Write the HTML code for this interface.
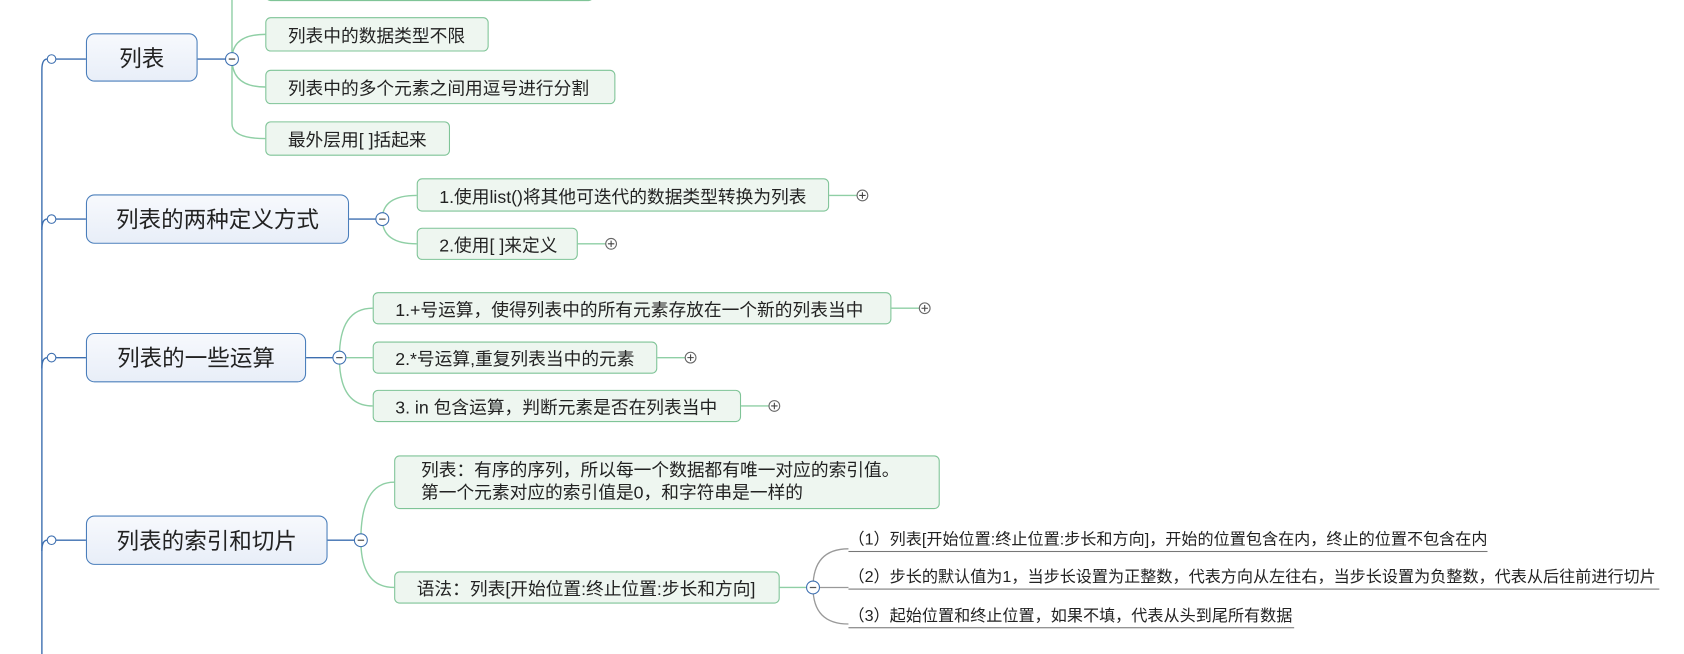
<!DOCTYPE html>
<html><head><meta charset="utf-8"><style>
html,body{margin:0;width:1684px;height:654px;overflow:hidden}
body{background:#fff;position:relative;font-family:"Liberation Sans","Noto Sans CJK SC",sans-serif}
#w{position:absolute;left:0;top:0;width:1568px;height:609px;overflow:hidden;transform:scale(1.074);transform-origin:0 0}
.r{position:absolute;border:1px solid #4a7ebb;border-radius:8px;background:linear-gradient(#f7f9fd,#e8eef8);font-size:21px;color:#222;display:flex;align-items:center;justify-content:center;box-sizing:border-box}
.c{position:absolute;border:1px solid #7fc497;border-radius:5px;background:#eef6f0;font-size:16.5px;color:#222;display:flex;align-items:center;padding-left:20px;box-sizing:border-box;white-space:nowrap}
.l{position:absolute;font-size:15px;color:#222;white-space:nowrap;border-bottom:1px solid #777;padding-bottom:1px}
svg{position:absolute;left:0;top:0}
</style></head><body><div id="w">
<svg width="1568" height="609" fill="none">
<g stroke="#3d6fb0" stroke-width="1.3">
<path d="M39 609 V65 Q39 55 44 55"/><path d="M39 214 Q39 204 44 204"/><path d="M39 343 Q39 333 44 333"/><path d="M39 513 Q39 503 44 503"/>
<path d="M52 55H80M52 204H80M52 333H80M52 503H80"/>
<path d="M184 55H211M325 204H351M285 333H311M305 503H331"/>
</g>
<g stroke="#8fcfa5" stroke-width="1.3">
<path d="M216 55 V0"/>
<path d="M216 55 Q216 32 247 32"/><path d="M216 55 Q216 81 247 81"/><path d="M216 55 V115 Q216 129 247 129"/>
<path d="M356 204 Q356 182 388 182"/><path d="M356 204 Q356 227 388 227"/>
<path d="M316 333 Q316 287 347 287"/><path d="M321 333H347"/><path d="M316 333 Q316 378 347 378"/>
<path d="M336 503 Q336 449 367 449"/><path d="M336 503 Q336 547 367 547"/>
<path d="M772 182H798M538 227H564M830 287H856M612 333H638M690 378H716M726 547H752"/>
</g>
<g stroke="#999" stroke-width="1.2">
<path d="M757 547 Q757 511 790 511"/><path d="M762 547H790"/><path d="M757 547 Q757 581 790 581"/>
</g>
<g stroke="#3d6fb0" stroke-width="1" fill="#fff">
<circle cx="48" cy="55" r="4"/><circle cx="48" cy="204" r="4"/><circle cx="48" cy="333" r="4"/><circle cx="48" cy="503" r="4"/>
<circle cx="216" cy="55" r="6"/><circle cx="356" cy="204" r="6"/><circle cx="316" cy="333" r="6"/><circle cx="336" cy="503" r="6"/><circle cx="757" cy="547" r="6"/>
</g>
<g stroke="#555" stroke-width="1.2"><path d="M213 55H219M353 204H359M313 333H319M333 503H339M754 547H760"/></g>
<g stroke="#666" stroke-width="1" fill="#fff">
<circle cx="803" cy="182" r="5"/><circle cx="569" cy="227" r="5"/><circle cx="861" cy="287" r="5"/><circle cx="643" cy="333" r="5"/><circle cx="721" cy="378" r="5"/>
</g>
<g stroke="#444" stroke-width="1"><path d="M800 182H806M803 179V185M566 227H572M569 224V230M858 287H864M861 284V290M640 333H646M643 330V336M718 378H724M721 375V381"/></g>
</svg>
<div class="r" style="left:80px;top:31px;width:104px;height:45px">列表</div>
<div class="r" style="left:80px;top:181px;width:245px;height:46px">列表的两种定义方式</div>
<div class="r" style="left:80px;top:310px;width:205px;height:46px">列表的一些运算</div>
<div class="r" style="left:80px;top:480px;width:225px;height:46px">列表的索引和切片</div>
<div class="c" style="left:247px;top:-30px;width:306px;height:31px"></div>
<div class="c" style="left:247px;top:16px;width:208px;height:32px">列表中的数据类型不限</div>
<div class="c" style="left:247px;top:65px;width:326px;height:32px">列表中的多个元素之间用逗号进行分割</div>
<div class="c" style="left:247px;top:113px;width:172px;height:32px">最外层用[ ]括起来</div>
<div class="c" style="left:388px;top:166px;width:384px;height:31px">1.使用list()将其他可迭代的数据类型转换为列表</div>
<div class="c" style="left:388px;top:212px;width:150px;height:30px">2.使用[ ]来定义</div>
<div class="c" style="left:347px;top:272px;width:483px;height:30px">1.+号运算，使得列表中的所有元素存放在一个新的列表当中</div>
<div class="c" style="left:347px;top:318px;width:265px;height:30px">2.*号运算,重复列表当中的元素</div>
<div class="c" style="left:347px;top:363px;width:343px;height:30px">3. in 包含运算，判断元素是否在列表当中</div>
<div class="c" style="left:367px;top:424px;width:508px;height:50px;line-height:21px;padding-left:24px">列表：有序的序列，所以每一个数据都有唯一对应的索引值。<br>第一个元素对应的索引值是0，和字符串是一样的</div>
<div class="c" style="left:367px;top:532px;width:359px;height:30px">语法：列表[开始位置:终止位置:步长和方向]</div>
<div class="l" style="left:790px;top:491px;width:595px">（1）列表[开始位置:终止位置:步长和方向]，开始的位置包含在内，终止的位置不包含在内</div>
<div class="l" style="left:790px;top:526px;width:755px">（2）步长的默认值为1，当步长设置为正整数，代表方向从左往右，当步长设置为负整数，代表从后往前进行切片</div>
<div class="l" style="left:790px;top:562px;width:415px">（3）起始位置和终止位置，如果不填，代表从头到尾所有数据</div>
</div></body></html>
